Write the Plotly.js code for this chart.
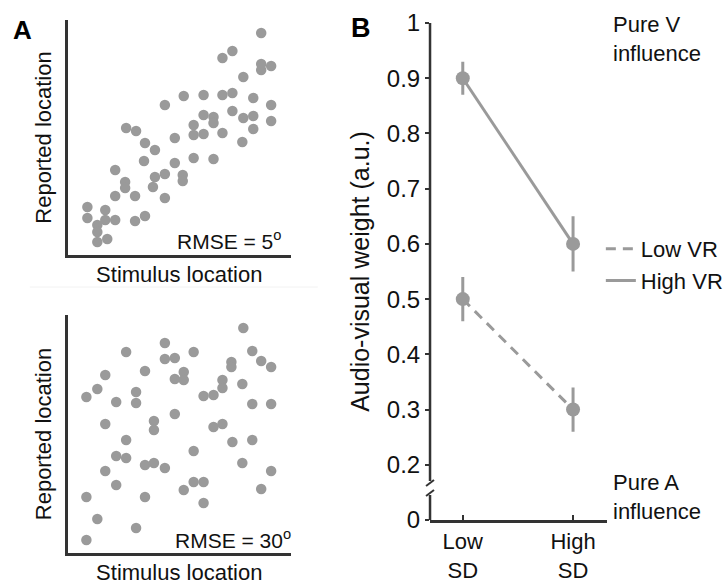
<!DOCTYPE html>
<html>
<head>
<meta charset="utf-8">
<script src="https://cdn.plot.ly/plotly-3.0.1.min.js"></script>
<style>html,body{margin:0;padding:0;background:#fff;}#chart{width:728px;height:586px;}</style>
</head>
<body>
<div id="chart"></div>
<script>
// ---- Panel A data (arbitrary location units) ----
const lowErrStimulus = [195,156,166,195,195,205,177,98,117,137,156,166,187,205,137,147,147,166,177,187,205,187,127,59,69,108,127,137,156,176,78,88,77,108,127,147,48,88,98,116,116,86,58,58,48,68,98,20,38,20,38,48,68,78,30,30,30,40];
const lowErrReported = [222,197,204,191,185,189,178,150,159,160,160,162,157,150,140,138,132,144,137,139,134,126,130,127,124,117,120,121,122,113,112,105,94,92,97,96,85,78,81,80,74,68,73,67,59,59,57,48,45,37,35,35,34,39,30,23,13,16];
const highErrStimulus = [177,59,98,98,108,127,186,195,205,165,165,38,78,117,108,117,19,30,49,69,69,137,147,156,156,176,186,205,38,87,87,108,147,156,59,127,166,186,49,59,78,87,98,38,176,205,49,117,127,137,195,19,78,137,30,69,19];
const highErrReported = [225,201,210,194,195,201,202,192,186,191,186,178,182,181,174,173,156,164,151,161,150,157,158,173,165,169,149,149,129,132,123,139,126,129,113,102,111,113,97,95,88,90,85,82,90,82,68,63,71,71,64,56,56,50,34,25,13];
const rmseLabels = ['RMSE = 5<sup>o</sup>', 'RMSE = 30<sup>o</sup>'];

// ---- Panel B data ----
const sdCategories = ['Low<br>SD', 'High<br>SD'];
const lowVR = [0.50, 0.30];
const lowVRErr = [0.04, 0.04];
const highVR = [0.90, 0.60];
const highVRErr = [0.03, 0.05];
const weightTickVals = [0.1,0.2,0.3,0.4,0.5,0.6,0.7,0.8,0.9,1.0];
const weightTickText = ['0','0.2','0.3','0.4','0.5','0.6','0.7','0.8','0.9','1'];

const W = 728, H = 586;
const px = x => x / W;
const py = y => 1 - y / H;
const FONT = 'Liberation Sans, Arial, sans-serif';
const GRAY = '#9a9a9a';
const AX = '#333333';

const traces = [
  {x: lowErrStimulus, y: lowErrReported, xaxis: 'x', yaxis: 'y', type: 'scatter', mode: 'markers',
   marker: {size: 10.5, color: GRAY}, showlegend: false, cliponaxis: false, hoverinfo: 'skip'},
  {x: highErrStimulus, y: highErrReported, xaxis: 'x2', yaxis: 'y2', type: 'scatter', mode: 'markers',
   marker: {size: 10.5, color: GRAY}, showlegend: false, cliponaxis: false, hoverinfo: 'skip'},
  {x: sdCategories, y: lowVR, xaxis: 'x3', yaxis: 'y3', type: 'scatter', mode: 'lines', name: 'Low VR',
   line: {color: GRAY, width: 3, dash: '10px,7px'}, cliponaxis: false},
  {x: sdCategories, y: highVR, xaxis: 'x3', yaxis: 'y3', type: 'scatter', mode: 'lines', name: 'High VR',
   line: {color: GRAY, width: 3}, cliponaxis: false},
  {x: sdCategories, y: lowVR, xaxis: 'x3', yaxis: 'y3', type: 'scatter', mode: 'markers', showlegend: false,
   marker: {size: 14, color: GRAY}, error_y: {type: 'data', array: lowVRErr, visible: true, color: GRAY, thickness: 3, width: 0}, cliponaxis: false},
  {x: sdCategories, y: highVR, xaxis: 'x3', yaxis: 'y3', type: 'scatter', mode: 'markers', showlegend: false,
   marker: {size: 14, color: GRAY}, error_y: {type: 'data', array: highVRErr, visible: true, color: GRAY, thickness: 3, width: 0}, cliponaxis: false}
];

const scatterAxis = (domain, range, title, standoff, anchor) => ({
  domain: domain, range: range, anchor: anchor,
  showline: true, linecolor: AX, linewidth: 2.5, mirror: false,
  showgrid: false, zeroline: false, showticklabels: false, ticks: '',
  title: {text: title, font: {family: FONT, size: 22, color: '#111'}, standoff: standoff},
  fixedrange: true
});

const yBreakTop = 0.1 + (520 - 481) / 552.2;
const yBreakBot = 0.1 + (520 - 495) / 552.2;

const layout = {
  width: W, height: H,
  margin: {l: 0, r: 0, t: 0, b: 0},
  paper_bgcolor: '#ffffff', plot_bgcolor: 'rgba(0,0,0,0)',
  font: {family: FONT, color: '#111'},
  xaxis: scatterAxis([px(68), px(293)], [0, 225], 'Stimulus location', 10, 'y'),
  yaxis: scatterAxis([py(255), py(20)], [0, 235], 'Reported location', 8, 'x'),
  xaxis2: scatterAxis([px(68), px(293)], [0, 225], 'Stimulus location', 10, 'y2'),
  yaxis2: scatterAxis([py(553), py(315)], [0, 238], 'Reported location', 8, 'x2'),
  xaxis3: {
    domain: [px(433), px(611)], anchor: 'y3', type: 'category', range: [-0.297, 1.306],
    showline: true, linecolor: AX, linewidth: 2.5, showgrid: false, zeroline: false,
    ticks: 'inside', ticklen: 5, tickwidth: 2, tickcolor: AX,
    tickfont: {family: FONT, size: 22, color: '#111'}, fixedrange: true
  },
  yaxis3: {
    domain: [py(520), py(23)], anchor: 'x3', range: [0.1, 1.0],
    showline: false, showgrid: false, zeroline: false,
    tickvals: weightTickVals, ticktext: weightTickText,
    ticks: 'outside', ticklen: 4, tickwidth: 2, tickcolor: AX,
    tickfont: {family: FONT, size: 24, color: '#111'},
    title: {text: 'Audio-visual weight (a.u.)', font: {family: FONT, size: 25, color: '#111'}, standoff: 10},
    fixedrange: true
  },
  legend: {
    x: px(605), y: py(228), xanchor: 'left', yanchor: 'top',
    font: {family: FONT, size: 22, color: '#111'},
    bgcolor: 'rgba(0,0,0,0)', itemwidth: 30, tracegroupgap: 0
  },
  shapes: [
    {type: 'line', xref: 'x3 domain', yref: 'y3', x0: 0, x1: 0, y0: 1.0, y1: yBreakTop, line: {color: AX, width: 2.5}},
    {type: 'line', xref: 'x3 domain', yref: 'y3', x0: 0, x1: 0, y0: yBreakBot, y1: 0.1, line: {color: AX, width: 2.5}},
    {type: 'line', xref: 'paper', yref: 'paper', x0: px(429), x1: px(437), y0: py(486), y1: py(480), line: {color: AX, width: 2}},
    {type: 'line', xref: 'paper', yref: 'paper', x0: px(429), x1: px(437), y0: py(496), y1: py(490), line: {color: AX, width: 2}},
    {type: 'line', xref: 'paper', yref: 'paper', x0: px(30), x1: px(320), y0: py(287), y1: py(287), line: {color: '#f2f2f2', width: 1}}
  ],
  annotations: [
    {text: '<b>A</b>', xref: 'paper', yref: 'paper', x: px(23), y: py(30), xanchor: 'center', yanchor: 'middle', showarrow: false, font: {family: FONT, size: 26, color: '#000'}},
    {text: '<b>B</b>', xref: 'paper', yref: 'paper', x: px(363), y: py(28), xanchor: 'center', yanchor: 'middle', showarrow: false, font: {family: FONT, size: 27, color: '#000'}},
    {text: rmseLabels[0], xref: 'paper', yref: 'paper', x: px(285), y: py(240), xanchor: 'right', yanchor: 'middle', showarrow: false, font: {family: FONT, size: 21, color: '#111'}},
    {text: rmseLabels[1], xref: 'paper', yref: 'paper', x: px(295), y: py(539), xanchor: 'right', yanchor: 'middle', showarrow: false, font: {family: FONT, size: 21, color: '#111'}},
    {text: 'Pure V<br>influence', xref: 'paper', yref: 'paper', x: px(615), y: py(39), xanchor: 'left', yanchor: 'middle', align: 'left', showarrow: false, font: {family: FONT, size: 22, color: '#111'}},
    {text: 'Pure A<br>influence', xref: 'paper', yref: 'paper', x: px(615), y: py(497), xanchor: 'left', yanchor: 'middle', align: 'left', showarrow: false, font: {family: FONT, size: 22, color: '#111'}}
  ]
};

Plotly.newPlot('chart', traces, layout, {staticPlot: true, displayModeBar: false});
</script>
</body>
</html>
